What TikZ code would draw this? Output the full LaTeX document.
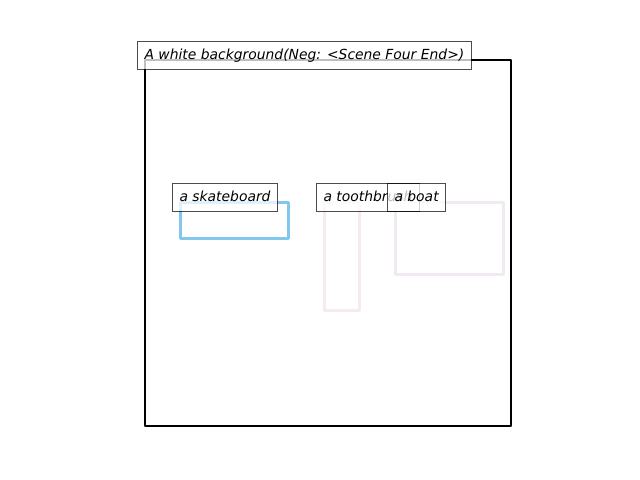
\documentclass[tikz,border=0pt]{standalone}
\usepackage{fontspec}
\setmainfont{DejaVu Sans}
\usetikzlibrary{positioning}
\definecolor{skateblue}{HTML}{84C7EE}
\definecolor{brushpink}{HTML}{F4EBEA}
\definecolor{boatlilac}{HTML}{F2EAF2}

\begin{document}
\begin{tikzpicture}[x=0.72pt,y=-0.72pt,
		region/.style={draw,line width=1.9pt,line join=round,inner sep=0pt,anchor=north west},
		tag/.style={draw=black,draw opacity=0.7,fill=white,fill opacity=0.75,text opacity=1,
			line width=0.72pt,font=\itshape\fontsize{10pt}{12pt}\selectfont,
			inner xsep=5pt,inner ysep=5pt,text height=7.6pt,text depth=2.4pt,
			anchor=base west,xshift=-5pt}]
	\useasboundingbox (0,0) rectangle (640,480);
	\node[region,draw=black,line width=1.6pt,minimum width=366*0.72pt,minimum height=366*0.72pt] (scene) at (144,59) {};
	\node[region,draw=skateblue,minimum width=108*0.72pt,minimum height=36*0.72pt] (skate) at (179,201) {};
	\node[region,draw=brushpink,minimum width=35*0.72pt,minimum height=108*0.72pt] (brush) at (323,201) {};
	\node[region,draw=boatlilac,minimum width=108*0.72pt,minimum height=72*0.72pt] (boat) at (394,201) {};
	\node[tag] (scenetag) at (scene.north west) {A white background(Neg: <Scene Four End>)};
	\node[tag] (skatetag) at (skate.north west) {a skateboard};
	\node[tag] (brushtag) at (brush.north west) {a toothbrush};
	\node[tag] (boattag) at (boat.north west) {a boat};
\end{tikzpicture}
\end{document}
